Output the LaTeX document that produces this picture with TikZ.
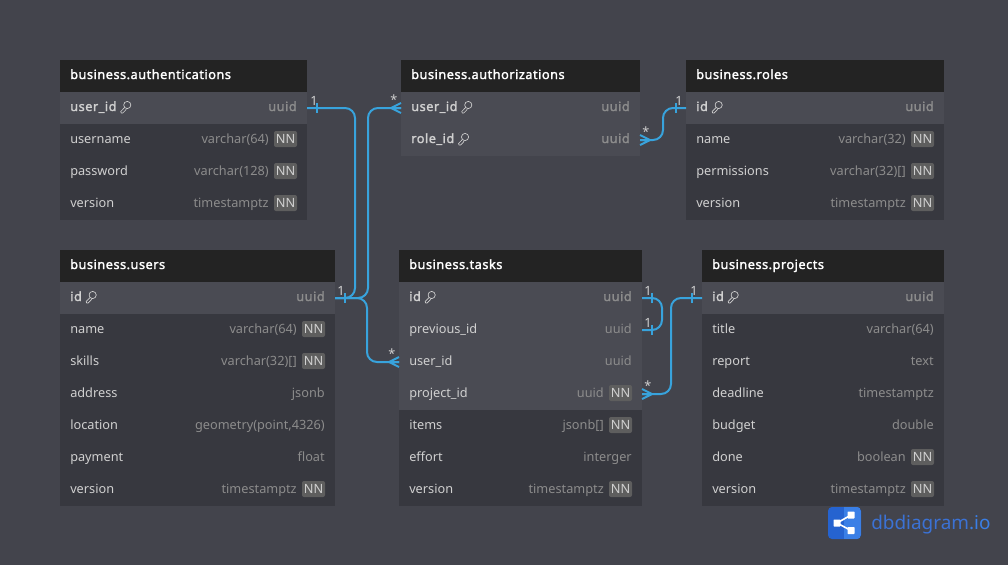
\documentclass[tikz,border=0pt]{standalone}
\usepackage{fontspec}
\setmainfont{Noto Sans}
\newfontfamily\boldfam{Noto Sans}[FakeBold=1.8,LetterSpace=4]
\usetikzlibrary{calc}
\definecolor{bgc}{HTML}{43444C}
\definecolor{hdc}{HTML}{232323}
\definecolor{rowc}{HTML}{37383F}
\definecolor{hic}{HTML}{4A4B53}
\definecolor{txc}{HTML}{D0D0D0}
\definecolor{tyc}{HTML}{8C8C8C}
\definecolor{nnc}{HTML}{5E5E5E}
\definecolor{linkc}{HTML}{38A3DC}
\definecolor{logoa}{HTML}{2563D0}
\definecolor{logob}{HTML}{3A7FE6}
\newcommand{\tfont}{\fontsize{9.55pt}{12pt}\selectfont}
\newcommand{\bfont}{\boldfam\fontsize{9.55pt}{12pt}\selectfont}
\tikzset{
  rowbox/.style={anchor=north west,inner sep=0pt,outer sep=0pt,minimum height=24pt,text width=0pt},
  headtext/.style={anchor=base west,inner sep=0pt,text=white,font=\bfont},
  labeltext/.style={anchor=base west,inner sep=0pt,text=txc,font=\tfont},
  typetext/.style={anchor=base east,inner sep=0pt,text=tyc,font=\tfont},
  nnbadge/.style={anchor=center,inner sep=0pt,minimum width=17.25pt,minimum height=12pt,rounded corners=1.5pt,fill=nnc,text=txc,font=\tfont},
  keyicon/.style={draw=txc,line width=0.5pt,line join=round},
  link/.style={draw=linkc,line width=1.5pt,rounded corners=7.5pt},
  mark line/.style={draw=linkc,line width=1.5pt},
  cardtext/.style={inner sep=0pt,text=txc,font=\tfont},
  logotile/.style={inner sep=0pt,minimum size=5.25pt,fill=white,rounded corners=0.5pt},
}
\newcommand{\dbhead}[5]{%
  \node[rowbox,fill=hdc,minimum width=#4*0.75pt] (#1) at (#2,#3) {};
  \node[headtext] (#1-t) at ($(#1.west)+(10,3)$) {#5};
}
\newcommand{\dbrow}[7]{%
  \node[rowbox,fill=#5,minimum width=#4*0.75pt] (#1) at (#2,#3) {};
  \node[labeltext] (#1-l) at ($(#1.west)+(10,3)$) {#6};
  \node[typetext] (#1-ty) at ($(#1.east)+(-10,3)$) {#7};
}
\newcommand{\dbrowN}[7]{%
  \node[rowbox,fill=#5,minimum width=#4*0.75pt] (#1) at (#2,#3) {};
  \node[labeltext] (#1-l) at ($(#1.west)+(10,3)$) {#6};
  \node[nnbadge] (#1-n) at ($(#1.east)+(-21.5,-1)$) {NN};
  \node[typetext] (#1-ty) at ($(#1.east)+(-38,3)$) {#7};
}
\newcommand{\dbkey}[6]{%
  \node[rowbox,fill=hic,minimum width=#4*0.75pt] (#1) at (#2,#3) {};
  \node[labeltext,font=\bfont] (#1-l) at ($(#1.west)+(10,3)$) {#5};
  \node[typetext,font=\bfont] (#1-ty) at ($(#1.east)+(-10,3)$) {#6};
  \begin{scope}[shift={(#1-l.base east)}]
    \draw[keyicon] (10.5,-6) circle[radius=3.6];
    \draw[keyicon] (7.9,-3.5) -- (4,0.5) -- (4.5,2) -- (6,2) -- (8.8,-0.8)
      (9.6,-2.5) -- (8.8,-0.8);
  \end{scope}
}
\newcommand{\crow}[2]{%
  \draw[mark line] ($(#1)+(#2*10,0)$) -- ($(#1)+(0,-5)$)
    ($(#1)+(#2*10,0)$) -- ($(#1)+(0,5)$)
    ($(#1)+(#2*10,0)$) -- (#1);
}
\newcommand{\tick}[2]{%
  \draw[mark line,line width=1.1pt] ($(#1)+(#2*10,-5)$) -- ($(#1)+(#2*10,5)$);
}
\begin{document}
\begin{tikzpicture}[x=0.75pt,y=-0.75pt]
\useasboundingbox (0,0) rectangle (1008,565);
\fill[bgc] (0,0) rectangle (1008,565);

\dbhead{auth}{60}{60}{247}{business.authentications}
\dbkey{authU}{60}{92}{247}{user\_id}{uuid}
\dbrowN{authN}{60}{124}{247}{rowc}{username}{varchar(64)}
\dbrowN{authP}{60}{156}{247}{rowc}{password}{varchar(128)}
\dbrowN{authV}{60}{188}{247}{rowc}{version}{timestamptz}

\dbhead{azn}{401}{60}{239}{business.authorizations}
\dbkey{aznU}{401}{92}{239}{user\_id}{uuid}
\dbkey{aznR}{401}{124}{239}{role\_id}{uuid}

\dbhead{roles}{686}{60}{258}{business.roles}
\dbkey{rolesI}{686}{92}{258}{id}{uuid}
\dbrowN{rolesN}{686}{124}{258}{rowc}{name}{varchar(32)}
\dbrowN{rolesP}{686}{156}{258}{rowc}{permissions}{varchar(32)[]}
\dbrowN{rolesV}{686}{188}{258}{rowc}{version}{timestamptz}

\dbhead{users}{60}{250}{275}{business.users}
\dbkey{usersI}{60}{282}{275}{id}{uuid}
\dbrowN{usersN}{60}{314}{275}{rowc}{name}{varchar(64)}
\dbrowN{usersS}{60}{346}{275}{rowc}{skills}{varchar(32)[]}
\dbrow{usersA}{60}{378}{275}{rowc}{address}{jsonb}
\dbrow{usersL}{60}{410}{275}{rowc}{location}{geometry(point,4326)}
\dbrow{usersY}{60}{442}{275}{rowc}{payment}{float}
\dbrowN{usersV}{60}{474}{275}{rowc}{version}{timestamptz}

\dbhead{tasks}{399}{250}{243}{business.tasks}
\dbkey{tasksI}{399}{282}{243}{id}{uuid}
\dbrow{tasksP}{399}{314}{243}{hic}{previous\_id}{uuid}
\dbrow{tasksU}{399}{346}{243}{hic}{user\_id}{uuid}
\dbrowN{tasksJ}{399}{378}{243}{hic}{project\_id}{uuid}
\dbrowN{tasksT}{399}{410}{243}{rowc}{items}{jsonb[]}
\dbrow{tasksE}{399}{442}{243}{rowc}{effort}{interger}
\dbrowN{tasksV}{399}{474}{243}{rowc}{version}{timestamptz}

\dbhead{proj}{702}{250}{242}{business.projects}
\dbkey{projI}{702}{282}{242}{id}{uuid}
\dbrow{projT}{702}{314}{242}{rowc}{title}{varchar(64)}
\dbrow{projR}{702}{346}{242}{rowc}{report}{text}
\dbrow{projD}{702}{378}{242}{rowc}{deadline}{timestamptz}
\dbrow{projB}{702}{410}{242}{rowc}{budget}{double}
\dbrowN{projO}{702}{442}{242}{rowc}{done}{boolean}
\dbrowN{projV}{702}{474}{242}{rowc}{version}{timestamptz}

\draw[link] (authU.east) -- ($(authU.east)+(48,0)$) |- (usersI.east);
\draw[link] (aznU.west) -- ($(aznU.west)+(-33,0)$) |- (usersI.east);
\draw[link] (usersI.east) -- ($(usersI.east)+(32,0)$) |- (tasksU.west);
\draw[link] (rolesI.west) -- ($(rolesI.west)+(-23,0)$) |- (aznR.east);
\draw[link] (tasksI.east) -- ($(tasksI.east)+(20,0)$) |- (tasksP.east);
\draw[link] (projI.west) -- ($(projI.west)+(-31,0)$) |- (tasksJ.east);

\tick{authU.east}{1}
\tick{usersI.east}{1}
\tick{rolesI.west}{-1}
\tick{tasksI.east}{1}
\tick{tasksP.east}{1}
\tick{projI.west}{-1}
\crow{aznU.west}{-1}
\crow{tasksU.west}{-1}
\crow{aznR.east}{1}
\crow{tasksJ.east}{1}

\node[cardtext] (c1) at (314,101) {1};
\node[cardtext] (c2) at (394,100) {*};
\node[cardtext] (c3) at (341,291) {1};
\node[cardtext] (c4) at (392,354) {*};
\node[cardtext] (c5) at (679,101) {1};
\node[cardtext] (c6) at (646,132) {*};
\node[cardtext] (c7) at (648,291) {1};
\node[cardtext] (c8) at (648,323) {1};
\node[cardtext] (c9) at (648,386) {*};
\node[cardtext] (c10) at (694,291) {1};

\fill[logoa,rounded corners=3pt] (828,507) rectangle (861,539);
\begin{scope}
  \clip[rounded corners=3pt] (828,507) rectangle (861,539);
  \fill[logob] (844,507) rectangle (861,539);
\end{scope}
\node[logotile] (lA) at (837,523) {};
\node[logotile] (lB) at (851,515) {};
\node[logotile] (lC) at (851,530.5) {};
\draw[white,line width=1.2pt] (lA.center) -- (lB.center) (lA.center) -- (lC.center);
\node[anchor=base west,inner sep=0pt,font=\fontsize{14.2pt}{18pt}\selectfont] (logoT) at (871,529.5)
  {\textcolor{logoa!90!white}{dbdiagram}\textcolor{logob}{.io}};
\end{tikzpicture}
\end{document}
